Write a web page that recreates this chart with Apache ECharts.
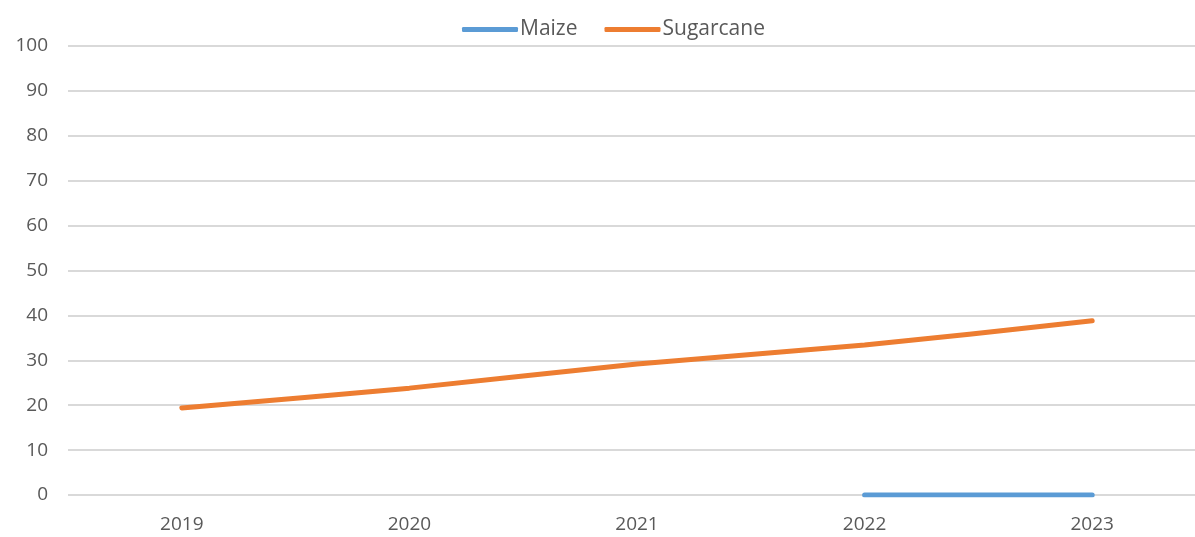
<!DOCTYPE html>
<html>
<head>
<meta charset="utf-8">
<script src="https://cdn.jsdelivr.net/npm/echarts@6/dist/echarts.min.js"></script>
<style>
  html, body { margin: 0; padding: 0; background: #fff; overflow: hidden; }
  #chart { width: 1210px; height: 537px; }
</style>
</head>
<body>
<div id="chart"></div>
<script>
const years = ['2019', '2020', '2021', '2022', '2023']
const maize = [null, null, null, 0, 0]
const sugarcane = [19.4, 23.8, 29.2, 33.4, 38.8]

const textColor = '#595959'
const fontFamily = 'Open Sans, Noto Sans, sans-serif'

const chart = echarts.init(document.getElementById('chart'))

// the plot area runs past the right edge of the window, as in the source image
const option = {
  animation: false,
  legend: {
    top: 14,
    left: 457,
    icon: 'roundRect',
    itemWidth: 56,
    itemHeight: 5,
    itemGap: 27,
    textStyle: { color: textColor, fontSize: 21, fontFamily: fontFamily, padding: [0, 0, 0, -3] },
    data: ['Maize', 'Sugarcane']
  },
  grid: { left: 68, right: 4, top: 46, bottom: 42, containLabel: false },
  xAxis: {
    type: 'category',
    data: years,
    boundaryGap: true,
    axisLine: { show: false },
    axisTick: { show: false },
    axisLabel: { color: textColor, fontSize: 19, fontFamily: fontFamily, margin: 20 }
  },
  yAxis: {
    type: 'value',
    min: 0,
    max: 100,
    interval: 10,
    axisLine: { show: false },
    axisTick: { show: false },
    axisLabel: { color: textColor, fontSize: 19, fontFamily: fontFamily, margin: 20 },
    splitLine: { lineStyle: { color: '#d9d9d9', width: 2 } }
  },
  series: [
    {
      name: 'Maize',
      type: 'line',
      data: maize,
      symbol: 'none',
      itemStyle: { color: '#5b9bd5' },
      lineStyle: { width: 5, cap: 'round', color: '#5b9bd5' }
    },
    {
      name: 'Sugarcane',
      type: 'line',
      data: sugarcane,
      smooth: 0.25,
      symbol: 'none',
      itemStyle: { color: '#ed7d31' },
      lineStyle: { width: 5, cap: 'round', color: '#ed7d31' }
    }
  ]
}

chart.setOption(option)
</script>
</body>
</html>
